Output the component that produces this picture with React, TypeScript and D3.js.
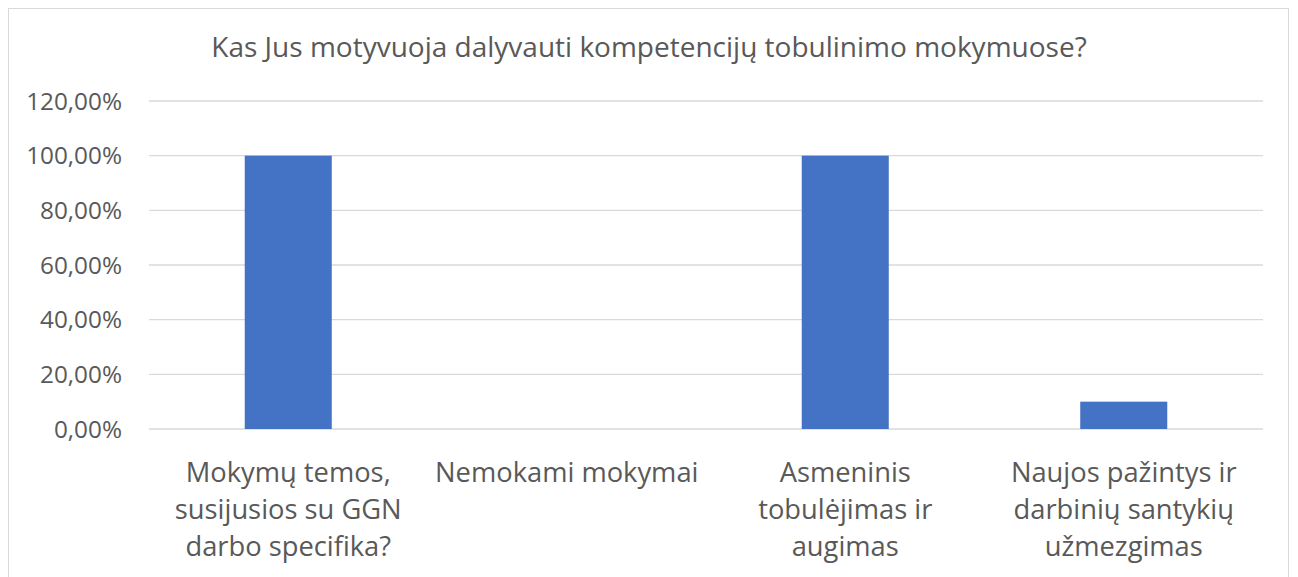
import React from "react";
import * as d3 from "d3";

const title = "Kas Jus motyvuoja dalyvauti kompetencijų tobulinimo mokymuose?";
const categories = [
  ["Mokymų temos,", "susijusios su GGN", "darbo specifika?"],
  ["Nemokami mokymai"],
  ["Asmeninis", "tobulėjimas ir", "augimas"],
  ["Naujos pažintys ir", "darbinių santykių", "užmezgimas"],
];
const values = [1.0, 0, 1.0, 0.1];
const yTicks = [0, 0.2, 0.4, 0.6, 0.8, 1.0, 1.2];

const font = "'Open Sans', 'Noto Sans', sans-serif";
const textColor = "#595959";

export default function App() {
  const width = 1290,
    height = 569;
  const left = 141,
    right = 1255,
    top = 93,
    bottom = 421;

  const x = d3
    .scaleBand<number>()
    .domain(d3.range(categories.length))
    .range([left, right]);
  const y = d3.scaleLinear().domain([0, 1.2]).range([bottom, top]);
  const barW = x.bandwidth() * 0.3125;
  const fmt = (v: number) => d3.format(".2f")(v * 100).replace(".", ",") + "%";

  return (
    <svg width={width} height={height} style={{ display: "block", overflow: "hidden" }}>
      <rect x={0.5} y={0.5} width={1280} height={620} fill="#fff" stroke="#d9d9d9" />
      <text x={641} y={49} textAnchor="middle" fontFamily={font} fontSize={28} fill={textColor}>
        {title}
      </text>
      {yTicks.map((t) => (
        <g key={t}>
          <line x1={left} x2={right} y1={y(t)} y2={y(t)} stroke="#d9d9d9" strokeWidth={1.3} />
          <text
            x={114}
            y={y(t)}
            dy="0.35em"
            textAnchor="end"
            fontFamily={font}
            fontSize={24.3}
            fill={textColor}
          >
            {fmt(t)}
          </text>
        </g>
      ))}
      {values.map((v, i) => (
        <rect
          key={i}
          x={x(i)! + (x.bandwidth() - barW) / 2}
          y={y(v)}
          width={barW}
          height={y(0) - y(v)}
          fill="#4472c4"
        />
      ))}
      {categories.map((lines, i) => (
        <text
          key={i}
          textAnchor="middle"
          fontFamily={font}
          fontSize={27.3}
          fill={textColor}
        >
          {lines.map((l, j) => (
            <tspan key={j} x={x(i)! + x.bandwidth() / 2} y={474 + j * 37}>
              {l}
            </tspan>
          ))}
        </text>
      ))}
    </svg>
  );
}
